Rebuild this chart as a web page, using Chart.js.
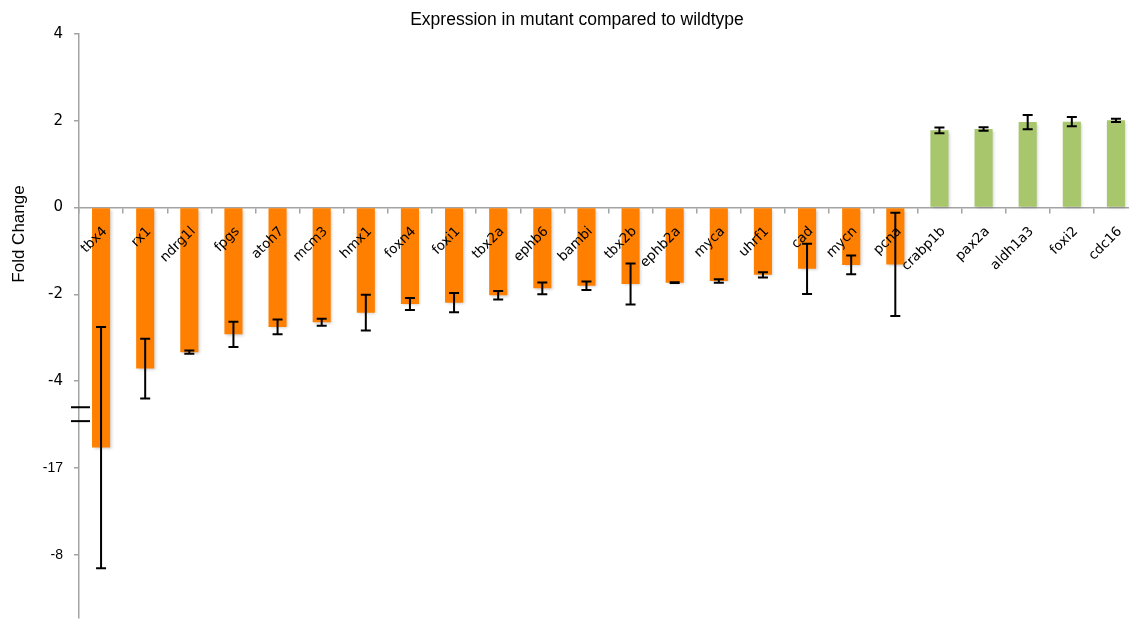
<!DOCTYPE html>
<html>
<head>
<meta charset="utf-8">
<title>Expression in mutant compared to wildtype</title>
<script src="https://cdn.jsdelivr.net/npm/chart.js@4.4.1/dist/chart.umd.min.js"></script>
<style>
  html, body { margin: 0; padding: 0; background: #ffffff; overflow: hidden; }
  #wrap { width: 1160px; height: 620px; }
</style>
</head>
<body>
<div id="wrap"><canvas id="chart" width="1160" height="620"></canvas></div>
<script>
// Genes on the x axis
const categories = ['tbx4', 'rx1', 'ndrg1l', 'fpgs', 'atoh7', 'mcm3', 'hmx1', 'foxn4', 'foxi1',
  'tbx2a', 'ephb6', 'bambi', 'tbx2b', 'ephb2a', 'myca', 'uhrf1', 'cad', 'mycn', 'pcna',
  'crabp1b', 'pax2a', 'aldh1a3', 'foxi2', 'cdc16'];

// Fold change (mutant vs wildtype) and its error margin (±)
const foldChange = [-5.53, -3.71, -3.33, -2.92, -2.75, -2.64, -2.42, -2.22, -2.19,
  -2.02, -1.86, -1.80, -1.76, -1.73, -1.69, -1.55, -1.41, -1.32, -1.31,
  1.78, 1.81, 1.97, 1.98, 2.01];
const errorMargin = [2.78, 0.69, 0.04, 0.29, 0.17, 0.08, 0.41, 0.14, 0.22,
  0.10, 0.135, 0.10, 0.47, 0.01, 0.04, 0.06, 0.58, 0.215, 1.19,
  0.065, 0.04, 0.165, 0.105, 0.04];

// Y axis ticks (the axis is broken below -4)
const tickValues = [4, 2, 0, -2, -4, -6, -8];
const tickLabels = ['4', '2', '0', '-2', '-4', '-17', '-8'];
const axisBreak = [-4.6, -4.92];

const DOWN = '#ff8000';
const UP = '#a8c66c';
const AXIS = '#a3a3a3';

const barShadow = {
  id: 'barShadow',
  beforeDatasetsDraw(chart) {
    const ctx = chart.ctx;
    ctx.save();
    ctx.shadowColor = 'rgba(0,0,0,0.22)';
    ctx.shadowBlur = 3;
    ctx.shadowOffsetX = 1.5;
    ctx.shadowOffsetY = 1.5;
  },
  afterDatasetsDraw(chart) {
    chart.ctx.restore();
  }
};

const errorBars = {
  id: 'errorBars',
  afterDatasetsDraw(chart) {
    const ctx = chart.ctx;
    const y = chart.scales.y;
    const meta = chart.getDatasetMeta(0);
    ctx.save();
    ctx.strokeStyle = '#000';
    ctx.lineWidth = 2;
    meta.data.forEach((bar, i) => {
      const v = foldChange[i], e = errorMargin[i];
      const yTop = y.getPixelForValue(v + e);
      const yBot = y.getPixelForValue(v - e);
      const x = bar.x;
      ctx.beginPath();
      ctx.moveTo(x, yTop); ctx.lineTo(x, yBot);
      ctx.moveTo(x - 5, yTop); ctx.lineTo(x + 5, yTop);
      ctx.moveTo(x - 5, yBot); ctx.lineTo(x + 5, yBot);
      ctx.stroke();
    });
    ctx.restore();
  }
};

const decorations = {
  id: 'decorations',
  afterDraw(chart) {
    const ctx = chart.ctx;
    const y = chart.scales.y;
    const left = chart.chartArea.left;
    ctx.save();
    // axis break marks
    ctx.strokeStyle = '#000';
    ctx.lineWidth = 2;
    axisBreak.forEach(v => {
      const py = y.getPixelForValue(v);
      ctx.beginPath();
      ctx.moveTo(left - 8, py);
      ctx.lineTo(left + 11, py);
      ctx.stroke();
    });
    // chart title
    ctx.fillStyle = '#000';
    ctx.font = '17.5px "Liberation Sans", Arial, sans-serif';
    ctx.textAlign = 'center';
    ctx.textBaseline = 'alphabetic';
    ctx.fillText('Expression in mutant compared to wildtype', 577, 25);
    // y axis title
    ctx.font = '17px "Liberation Sans", Arial, sans-serif';
    ctx.translate(24, 234);
    ctx.rotate(-Math.PI / 2);
    ctx.fillText('Fold Change', 0, 0);
    ctx.restore();
  }
};

new Chart(document.getElementById('chart'), {
  type: 'bar',
  data: {
    labels: categories,
    datasets: [{
      data: foldChange,
      backgroundColor: ctx => (ctx.raw < 0 ? DOWN : UP),
      borderWidth: 0,
      barPercentage: 0.41,
      categoryPercentage: 1
    }]
  },
  options: {
    responsive: false,
    animation: false,
    layout: { padding: { top: 34, right: 22, bottom: 2, left: 0 } },
    plugins: {
      legend: { display: false },
      title: { display: false },
      tooltip: { enabled: false }
    },
    scales: {
      x: {
        type: 'category',
        position: { y: 0 },
        offset: true,
        afterFit(scale) {
          scale.paddingTop = 0;
          scale.paddingBottom = 0;
        },
        grid: { offset: true, drawOnChartArea: false, tickLength: 5, color: AXIS, lineWidth: 1.5 },
        border: { color: AXIS, width: 1.5 },
        ticks: {
          z: 1,
          autoSkip: false,
          minRotation: 45,
          maxRotation: 45,
          padding: 11,
          labelOffset: 4,
          color: '#000',
          font: { family: '"DejaVu Sans", sans-serif', size: 13.5 }
        }
      },
      y: {
        min: -9.456,
        max: 4,
        afterBuildTicks(scale) {
          scale.ticks = tickValues.map(v => ({ value: v }));
        },
        afterFit(scale) {
          scale.width = 79;
          scale.paddingTop = 0;
          scale.paddingBottom = 0;
        },
        grid: { drawOnChartArea: false, tickLength: 5, color: AXIS, lineWidth: 1.5 },
        border: { color: AXIS, width: 1.5 },
        ticks: {
          padding: 11,
          color: '#000',
          callback: (value, index) => tickLabels[index],
          font: ctx => (ctx.index >= 5
            ? { family: '"Liberation Sans", Arial, sans-serif', size: 14 }
            : { family: '"DejaVu Sans", sans-serif', size: 15 })
        }
      }
    }
  },
  plugins: [barShadow, errorBars, decorations]
});
</script>
</body>
</html>
